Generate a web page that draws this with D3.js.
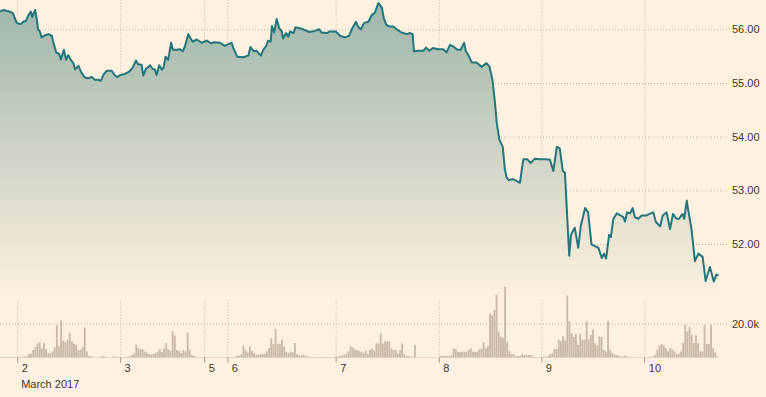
<!DOCTYPE html>
<html>
<head>
<meta charset="utf-8">
<script src="https://cdn.jsdelivr.net/npm/d3@7"></script>
<style>
  html, body { margin: 0; padding: 0; background: #fff1e0; }
  svg { display: block; }
</style>
</head>
<body>
<script>
// trading-hour positions of the day ticks (weekend gap removed)
var dayLabels = ["2", "3", "5", "6", "7", "8", "9", "10"];
var dayHours  = [4.0, 28.0, 47.6, 53.0, 78.25, 102.3, 126.2, 150.2];
var monthLabel = "March 2017";
var priceTicks = [52, 53, 54, 55, 56];
var volumeTicks = [20];   // thousands

// price line: trading hours since start, price
var priceHours = [0,0.8,1.6,2.3,3.0,3.5,3.9,4.5,5.1,5.4,6.1,6.6,7.2,7.5,8.2,8.6,8.9,9.3,9.7,10.5,
  11.3,12.1,12.4,13.1,13.8,14.2,14.9,15.4,15.9,16.5,17.1,17.5,18.3,19.0,19.8,20.6,21.4,22.1,22.9,23.5,
  24.1,24.9,26.0,26.8,27.3,28.1,29.1,30.1,30.9,31.7,32.2,33.0,33.4,34.0,35.0,35.6,36.1,36.5,37.1,37.7,
  38.1,38.6,39.2,39.9,40.3,41.2,42.0,42.6,43.1,43.9,44.9,45.9,47.0,48.2,49.2,50.1,51.3,52.4,54.0,54.4,
  55.3,56.7,57.9,58.4,59.2,59.8,60.8,61.4,62.0,62.5,63.1,63.4,63.9,64.5,65.1,65.7,66.0,66.7,67.2,67.6,
  68.4,68.9,69.8,70.7,72.1,73.4,74.4,75.0,76.2,76.9,78.3,79.3,80.4,81.4,82.0,83.0,83.5,84.1,84.9,85.9,
  86.6,87.4,88.2,89.0,89.5,90.1,90.9,91.7,92.5,93.6,94.8,95.6,96.2,96.5,97.5,98.7,99.3,100.1,100.9,102.2,
  103.3,104.1,104.9,105.7,106.6,107.4,108.2,108.6,109.2,110.0,111.1,112.3,113.4,114.1,114.8,115.4,115.8,116.4,117.2,117.7,
  118.1,118.6,119.6,120.5,121.2,122.0,122.9,123.7,124.7,125.9,127.4,128.2,129.0,129.8,130.5,131.2,131.7,132.7,133.1,133.6,
  134.0,134.8,135.4,136.4,137.1,137.9,138.7,139.5,140.3,140.8,141.3,142.0,142.4,143.0,143.8,144.5,145.3,145.7,146.2,146.9,
  147.5,148.0,148.8,149.6,150.6,151.4,152.3,152.9,153.9,154.5,155.4,156.2,156.9,157.7,158.3,159.1,159.5,160.1,160.4,161.2,
  162.0,162.8,163.8,164.5,165.5,166.4,167.0,167.5];
var prices = [56.33,56.36,56.34,56.33,56.30,56.20,56.12,56.10,56.11,56.14,56.16,56.26,56.33,56.23,56.36,56.17,55.99,55.96,55.85,55.89,
  55.91,55.88,55.77,55.57,55.54,55.44,55.62,55.43,55.52,55.43,55.37,55.25,55.32,55.19,55.10,55.09,55.11,55.06,55.06,55.04,
  55.15,55.23,55.23,55.14,55.11,55.15,55.17,55.21,55.28,55.42,55.35,55.34,55.14,55.26,55.33,55.26,55.25,55.15,55.33,55.25,
  55.28,55.49,55.43,55.75,55.62,55.62,55.63,55.59,55.68,55.91,55.77,55.81,55.75,55.79,55.74,55.76,55.75,55.69,55.75,55.65,
  55.49,55.48,55.51,55.67,55.59,55.60,55.51,55.62,55.68,55.79,55.77,56.06,55.94,56.19,56.02,55.96,55.83,55.93,55.86,55.96,
  55.93,56.04,56.02,56.00,55.95,55.97,56.00,55.94,55.93,55.96,55.96,55.88,55.85,55.88,56.00,56.14,56.05,56.00,56.12,56.14,
  56.26,56.31,56.49,56.41,56.20,56.08,56.05,56.05,56.00,55.94,55.91,55.93,55.91,55.59,55.60,55.60,55.66,55.60,55.65,55.63,
  55.63,55.57,55.71,55.68,55.62,55.62,55.75,55.59,55.52,55.38,55.38,55.30,55.37,55.31,55.06,54.63,54.26,53.95,53.81,53.39,
  53.24,53.19,53.21,53.17,53.14,53.58,53.58,53.51,53.59,53.58,53.58,53.57,53.36,53.81,53.78,53.36,53.33,51.78,52.16,52.25,
  52.30,51.93,52.34,52.67,52.59,51.99,51.96,51.93,51.74,51.82,51.73,52.17,52.13,52.47,52.57,52.54,52.50,52.42,52.59,52.57,
  52.67,52.50,52.47,52.53,52.53,52.56,52.59,52.41,52.33,52.53,52.59,52.28,52.56,52.47,52.47,52.56,52.47,52.81,52.65,52.28,
  51.68,51.82,51.76,51.31,51.57,51.30,51.43,51.41];

// volume in thousands, one bar per 30 minutes of trading
var volumeK = [
  0.4,0.4,0.4,0.4,0.4,0.4,0.4,0.4,0.5,0.5,0.6,0.8,0.8,2.3,2.3,4.5,6.2,8.2,9.0,5.7,
  8.6,5.0,2.7,2.7,3.7,6.0,19.0,6.6,21.8,10.0,9.0,10.5,14.4,9.6,8.2,7.5,4.3,4.7,6.0,17.7,
  3.7,1.0,0.8,0.5,0.3,0.3,0.3,0.9,0.9,0.5,0.3,0.3,0.5,0.8,0.4,0.4,0.4,0.4,0.5,0.5,
  0.8,1.5,2.5,7.4,5.5,5.0,4.9,3.5,3.0,2.1,2.1,2.1,2.9,3.5,4.9,3.5,5.5,8.6,5.0,4.0,
  15.4,13.0,4.5,3.9,2.7,4.5,3.7,14.8,4.7,1.5,1.0,0.5,0.4,0.4,0.3,0.3,0.3,0.3,0.3,0.3,
  0.3,0.3,0.3,0.3,0.3,0.3,0.3,0.4,0.5,0.5,1.2,1.2,2.0,7.0,4.3,3.1,6.6,4.0,2.7,1.7,
  1.7,2.0,2.3,2.3,3.7,5.7,11.5,8.0,16.7,8.2,8.2,10.5,6.6,3.5,2.7,3.7,3.1,8.6,2.1,1.2,
  1.2,1.7,1.2,0.8,0.4,0.4,0.4,0.4,0.4,0.4,0.4,0.4,0.4,0.4,0.4,0.4,0.5,0.8,1.0,1.2,
  1.7,2.5,3.7,6.6,6.0,4.7,4.5,3.9,3.5,2.9,3.9,2.1,4.5,5.1,4.0,8.4,8.4,14.2,8.4,9.7,
  9.4,9.4,5.5,4.5,4.5,2.5,4.5,8.4,2.1,1.0,1.0,0.5,0.5,7.4,0.4,0.3,0.3,0.3,0.3,0.3,
  0.3,0.3,0.3,0.3,0.3,0.8,1.0,1.0,1.0,1.0,1.5,5.5,5.1,3.5,3.5,3.5,3.5,3.5,4.5,5.5,
  3.5,3.5,3.5,4.9,5.5,9.0,5.5,6.8,25.9,24.8,27.9,36.7,15.2,12.3,11.5,41.5,9.4,3.9,2.1,2.1,
  1.0,1.0,1.0,2.1,1.6,1.6,1.6,1.6,0.8,0.4,0.4,0.4,0.4,0.6,0.6,1.0,2.1,2.7,5.1,5.1,
  10.5,9.6,12.5,10.1,36.3,21.4,14.4,12.1,14.0,7.6,14.0,10.5,10.5,21.4,10.7,13.3,16.6,8.6,7.2,12.5,
  12.1,4.7,3.7,21.4,4.7,2.7,1.8,1.6,1.2,0.8,0.6,1.2,0.6,0.5,0.5,0.4,0.3,0.3,0.3,0.3,
  0.3,0.3,0.4,0.5,0.8,1.8,4.7,7.2,8.0,7.2,5.5,3.7,5.7,4.7,3.7,2.3,2.3,3.7,8.6,19.3,
  15.4,17.9,13.3,8.6,13.1,8.6,3.7,3.7,19.1,8.0,8.0,19.1,5.7,3.1,0.8];

var W = 766, H = 397;
var plotRight = 727, baseY = 357.7, areaBottom = 300;
var font = "Arial, 'Liberation Sans', sans-serif";

var svg = d3.select("body").append("svg")
    .attr("width", W).attr("height", H);

svg.append("rect").attr("width", W).attr("height", H).attr("fill", "#fff1e0");

var x = d3.scaleLinear().domain([0, 167.5]).range([0, 718.5]);
var y = d3.scaleLinear().domain([52, 56]).range([244, 29.3]);
var yv = d3.scaleLinear().domain([0, 20]).range([baseY, 323.5]);

var grad = svg.append("defs").append("linearGradient")
    .attr("id", "fade").attr("gradientUnits", "userSpaceOnUse")
    .attr("x1", 0).attr("y1", 0).attr("x2", 0).attr("y2", areaBottom);
grad.append("stop").attr("offset", 0).attr("stop-color", "#9db6ab");
grad.append("stop").attr("offset", 1).attr("stop-color", "#fff1e0");

// vertical day grid
svg.append("g")
    .attr("transform", "translate(0," + baseY + ")")
    .call(d3.axisBottom(x).tickValues(dayHours).tickSize(-baseY).tickFormat(""))
    .call(function (g) {
      g.select(".domain").remove();
      g.selectAll("line").attr("stroke", "#bdb5ab").attr("stroke-dasharray", "1,2");
    });

// price grid + labels
svg.append("g")
    .attr("transform", "translate(" + plotRight + ",0)")
    .call(d3.axisRight(y).tickValues(priceTicks).tickSize(-plotRight).tickPadding(5)
      .tickFormat(d3.format(".2f")))
    .call(function (g) {
      g.select(".domain").remove();
      g.selectAll("line").attr("stroke", "#bdb5ab").attr("stroke-dasharray", "1,2");
      g.selectAll("text").attr("fill", "#3a3632").style("font", "11px " + font);
    });

// volume grid + label
svg.append("g")
    .attr("transform", "translate(" + plotRight + ",0)")
    .call(d3.axisRight(yv).tickValues(volumeTicks).tickSize(-plotRight).tickPadding(5)
      .tickFormat(function (d) { return d.toFixed(1) + "k"; }))
    .call(function (g) {
      g.select(".domain").remove();
      g.selectAll("line").attr("stroke", "#bdb5ab").attr("stroke-dasharray", "1,2");
      g.selectAll("text").attr("fill", "#3a3632").style("font", "11px " + font);
    });

// price area + line
var pts = priceHours.map(function (h, i) { return [h, prices[i]]; });

svg.append("path").datum(pts)
    .attr("fill", "url(#fade)")
    .attr("d", d3.area().x(function (d) { return x(d[0]); })
      .y0(areaBottom).y1(function (d) { return y(d[1]); }));

svg.append("path").datum(pts)
    .attr("fill", "none").attr("stroke", "#22767a").attr("stroke-width", 2)
    .attr("stroke-linejoin", "round")
    .attr("d", d3.line().x(function (d) { return x(d[0]); }).y(function (d) { return y(d[1]); }));

// volume bars
svg.append("g").selectAll("rect").data(volumeK).enter().append("rect")
    .attr("x", function (d, i) { return x(i * 0.5) + 0.15; })
    .attr("width", x(0.5) - x(0) - 0.3)
    .attr("y", function (d) { return yv(d); })
    .attr("height", function (d) { return baseY - yv(d); })
    .attr("fill", "#c9b8a6");

// day axis
svg.append("g")
    .attr("transform", "translate(0," + baseY + ")")
    .call(d3.axisBottom(x).tickValues(dayHours).tickSize(5).tickPadding(2)
      .tickFormat(function (d, i) { return dayLabels[i]; }))
    .call(function (g) {
      g.select(".domain").remove();
      g.selectAll("line").attr("stroke", "#9d968e");
      g.selectAll("text").attr("fill", "#3a3632").attr("text-anchor", "start")
        .attr("x", 4).style("font", "11px " + font);
    });

svg.append("text")
    .attr("x", x(dayHours[0]) + 4).attr("y", 388)
    .attr("fill", "#3a3632").style("font", "11px " + font)
    .text(monthLabel);
</script>
</body>
</html>
